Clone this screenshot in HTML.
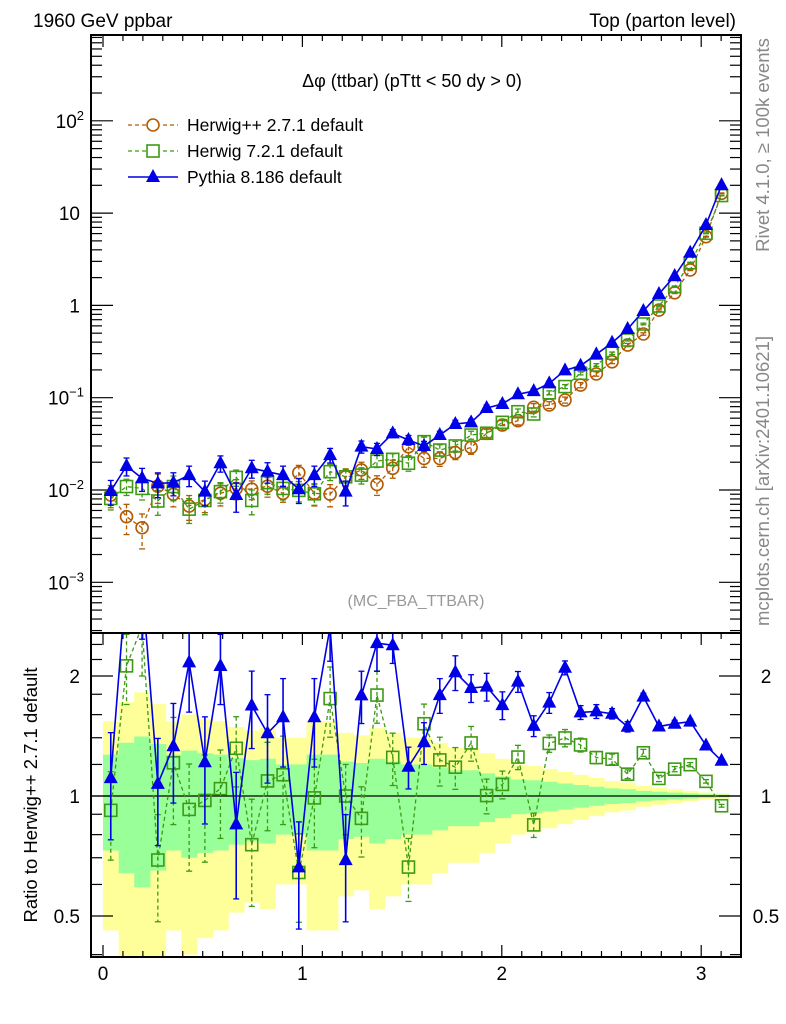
<!DOCTYPE html>
<html><head><meta charset="utf-8">
<style>
html,body{margin:0;padding:0;background:#fff;overflow:hidden;width:786px;height:1024px;}
svg{display:block;font-family:"Liberation Sans",Arial,sans-serif;}
</style></head>
<body>
<svg id="chart" width="786" height="1024" viewBox="0 0 786 1024" xmlns="http://www.w3.org/2000/svg">
<defs>
<clipPath id="cMain"><rect x="91" y="35" width="650" height="598"/></clipPath>
<clipPath id="cRat"><rect x="91" y="633" width="650" height="324"/></clipPath>
</defs>
<g id="bands" clip-path="url(#cRat)"></g>
<g id="grid"></g>
<g id="mainSeries" clip-path="url(#cMain)"></g>
<g id="ratSeries" clip-path="url(#cRat)"></g>
<rect x="91" y="35" width="650" height="598" fill="none" stroke="#000" stroke-width="2"/>
<rect x="91" y="633" width="650" height="324" fill="none" stroke="#000" stroke-width="2"/>
<text x="33" y="27" font-size="19">1960 GeV ppbar</text>
<text x="736" y="27" font-size="19" text-anchor="end">Top (parton level)</text>
<text x="412" y="87" font-size="18" text-anchor="middle">Δφ (ttbar) (pTtt &lt; 50 dy &gt; 0)</text>
<text x="416" y="606" font-size="16" fill="#999" text-anchor="middle">(MC_FBA_TTBAR)</text>
<text transform="translate(769,145) rotate(-90)" font-size="18.5" fill="#888" text-anchor="middle">Rivet 4.1.0, ≥ 100k events</text>
<text transform="translate(769,481) rotate(-90)" font-size="18.5" fill="#888" text-anchor="middle">mcplots.cern.ch [arXiv:2401.10621]</text>
<text transform="translate(37,795) rotate(-90)" font-size="18.5" text-anchor="middle">Ratio to Herwig++ 2.7.1 default</text>
<g id="legend"></g>
</svg>
<script>
const binCenters=[0.039,0.118,0.196,0.275,0.353,0.432,0.511,0.589,0.668,0.746,0.825,0.903,0.982,1.060,1.139,1.217,1.296,1.374,1.453,1.532,1.610,1.689,1.767,1.846,1.924,2.003,2.081,2.160,2.238,2.317,2.395,2.474,2.553,2.631,2.710,2.788,2.867,2.945,3.024,3.102];
const hppValues=[0.0088,0.00514,0.0039,0.0110,0.0090,0.0067,0.0079,0.0092,0.0104,0.0102,0.0110,0.0092,0.0154,0.0092,0.0090,0.0139,0.0165,0.0115,0.0172,0.0294,0.022,0.022,0.0254,0.029,0.0411,0.0506,0.0563,0.0787,0.0834,0.0944,0.137,0.181,0.245,0.372,0.49,0.89,1.37,2.42,5.55,16.4];
const h7Values=[0.0081,0.0109,0.0104,0.0076,0.0109,0.0062,0.0077,0.0096,0.0137,0.0077,0.0120,0.0104,0.0099,0.0091,0.0158,0.0139,0.0145,0.0206,0.0215,0.0195,0.0334,0.0271,0.030,0.0394,0.0412,0.0541,0.0705,0.0666,0.113,0.132,0.184,0.226,0.303,0.422,0.629,0.985,1.60,2.90,6.04,15.5];
const pyValues=[0.00976,0.0182,0.0134,0.0118,0.0120,0.0145,0.0096,0.0195,0.00883,0.0172,0.0158,0.0145,0.0102,0.0145,0.0239,0.0096,0.0295,0.0278,0.0411,0.0348,0.030,0.0394,0.0519,0.0541,0.0773,0.0855,0.109,0.118,0.143,0.198,0.222,0.295,0.394,0.555,0.87,1.33,2.08,3.72,7.43,20.1];
const hppErr=[0.27,0.36,0.41,0.35,0.27,0.30,0.28,0.27,0.245,0.23,0.24,0.2,0.2,0.27,0.27,0.22,0.21,0.24,0.22,0.2,0.2,0.18,0.16,0.16,0.14,0.12,0.1,0.095,0.085,0.075,0.065,0.055,0.045,0.04,0.03,0.025,0.02,0.015,0.01,0.008];
const h7Err=[0.25,0.2,0.25,0.3,0.3,0.3,0.3,0.25,0.2,0.3,0.25,0.25,0.25,0.25,0.2,0.2,0.2,0.15,0.15,0.18,0.12,0.14,0.12,0.1,0.1,0.08,0.07,0.07,0.05,0.05,0.04,0.035,0.03,0.025,0.02,0.018,0.015,0.012,0.01,0.008];
const pyErr=[0.3,0.22,0.28,0.3,0.28,0.25,0.3,0.2,0.35,0.22,0.25,0.25,0.3,0.25,0.18,0.3,0.15,0.15,0.1,0.12,0.12,0.1,0.1,0.08,0.08,0.08,0.06,0.06,0.06,0.04,0.04,0.04,0.03,0.03,0.02,0.02,0.02,0.015,0.01,0.01];
const xTickLabels=["0","1","2","3"];
const yMainTickLabels=[["10","-3",-3],["10","-2",-2],["10","-1",-1],["1","",0],["10","",1],["10","2",2]];
const yRatTickLabels=[["0.5",0.5],["1",1],["2",2]];

const NS="http://www.w3.org/2000/svg";
const X=v=>103+199.4*v;
const YM=v=>490-92.3*(Math.log10(v)+2);
const YR=r=>796-120*Math.log2(r);
const HW=0.0393;
function mk(tag,attrs,parent){const e=document.createElementNS(NS,tag);for(const k in attrs)e.setAttribute(k,attrs[k]);parent.appendChild(e);return e;}
const grid=document.getElementById('grid');

const bands=document.getElementById('bands');
binCenters.forEach((c,i)=>{
  const e=hppErr[i];
  const y1=mk('rect',{x:X(c-HW),width:X(c+HW)-X(c-HW)+0.5,y:YR(1+2*e),height:YR(Math.max(1-2*e,0.05))-YR(1+2*e),fill:'#ffff99'},bands);
  
  
});
binCenters.forEach((c,i)=>{
  const e=hppErr[i];
  const g1=mk('rect',{x:X(c-HW),width:X(c+HW)-X(c-HW)+0.5,y:YR(1+e),height:YR(1-e)-YR(1+e),fill:'#99ff99'},bands);
  
  
});
mk('line',{x1:91,x2:741,y1:YR(1),y2:YR(1),stroke:'#000','stroke-width':1.3},bands);

[35,633].forEach(yy=>{ for(let t=0;t<=32;t++){const v=t/10;const x=X(v);if(x>741)break;const L=(t%10===0)?12:6;mk('line',{x1:x,x2:x,y1:yy,y2:yy+L,stroke:'#000','stroke-width':1.2},grid);} });
for(let t=0;t<=32;t++){const v=t/10;const x=X(v);if(x>741)break;const L=(t%10===0)?12:6;mk('line',{x1:x,x2:x,y1:957,y2:957-L,stroke:'#000','stroke-width':1.2},grid);}
xTickLabels.forEach((s,i)=>{const t=mk('text',{x:X(i),y:980,'font-size':19,'text-anchor':'middle'},grid);t.textContent=s;
  
  });
for(let d=-4;d<=2;d++){for(let m=1;m<=9;m++){const v=m*Math.pow(10,d);const y=YM(v);if(y<35||y>633)continue;const L=m===1?22:11;
  mk('line',{x1:91,x2:91+L,y1:y,y2:y,stroke:'#000','stroke-width':1.2},grid);mk('line',{x1:741,x2:741-L,y1:y,y2:y,stroke:'#000','stroke-width':1.2},grid);}}
yMainTickLabels.forEach(([b,sup,p])=>{const t=mk('text',{x:sup?84:80,y:YM(Math.pow(10,p))+7,'font-size':19,'text-anchor':'end'},grid);
  
  
  t.textContent=b; if(sup){const s=document.createElementNS(NS,'tspan');s.setAttribute('dy','-8');s.setAttribute('font-size','13');s.textContent=sup.replace('-','−');t.appendChild(s);}
});
[0.4,0.5,0.6,0.7,0.8,0.9,1,1.2,1.4,1.6,1.8,2,2.2,2.4].forEach(r=>{const y=YR(r);if(y<633||y>957)return;const L=(r===0.5||r===1||r===2)?22:11;
  mk('line',{x1:91,x2:91+L,y1:y,y2:y,stroke:'#000','stroke-width':1.2},grid);mk('line',{x1:741,x2:741-L,y1:y,y2:y,stroke:'#000','stroke-width':1.2},grid);});
yRatTickLabels.forEach(([s,r])=>{
  const t=mk('text',{x:80,y:YR(r)+7,'font-size':19,'text-anchor':'end'},grid);t.textContent=s;
  
  
  const t2=mk('text',{x:766,y:YR(r)+7,'font-size':19,'text-anchor':'middle'},grid);t2.textContent=s;
  
  
});

function marker(kind,x,y,color,parent){
  let m;
  if(kind==='circle') m=mk('circle',{cx:x,cy:y,r:6,fill:'none',stroke:color,'stroke-width':1.6},parent);
  else if(kind==='square') m=mk('rect',{x:x-6,y:y-6,width:12,height:12,fill:'none',stroke:color,'stroke-width':1.6},parent);
  else m=mk('polygon',{points:`${x},${y-8} ${x-7},${y+5} ${x+7},${y+5}`,fill:color},parent);
  return m;
}
const series=[
 {name:'herwigpp',vals:hppValues,err:hppErr,color:'#b35a00',kind:'circle',dash:'4,3',w:1.3},
 {name:'herwig7',vals:h7Values,err:h7Err,color:'#3c9a14',kind:'square',dash:'4,3',w:1.3},
 {name:'pythia',vals:pyValues,err:pyErr,color:'#0000e6',kind:'tri',dash:'',w:1.6}
];
const mainG=document.getElementById('mainSeries'), ratG=document.getElementById('ratSeries');
series.forEach(s=>{
  const gm=mk('g',{},mainG);
  
  
  const pts=binCenters.map((c,i)=>X(c)+','+YM(s.vals[i])).join(' ');
  mk('polyline',{points:pts,fill:'none',stroke:s.color,'stroke-width':s.w,'stroke-dasharray':s.dash},gm);
  binCenters.forEach((c,i)=>{const x=X(c),v=s.vals[i],e=s.err[i];
    const yt=YM(v*(1+e)),yb=YM(v*(1-e));
    mk('line',{x1:x,x2:x,y1:yt,y2:yb,stroke:s.color,'stroke-width':s.w,'stroke-dasharray':s.dash},gm);
    mk('line',{x1:x-3,x2:x+3,y1:yt,y2:yt,stroke:s.color,'stroke-width':1.3},gm);
    mk('line',{x1:x-3,x2:x+3,y1:yb,y2:yb,stroke:s.color,'stroke-width':1.3},gm);
    const m=marker(s.kind,x,YM(v),s.color,gm);
    
    
  });
  const gr=mk('g',{},ratG);
  
  
  const rv=binCenters.map((c,i)=>s.vals[i]/hppValues[i]);
  if(s.name!=='herwigpp'){
    mk('polyline',{points:binCenters.map((c,i)=>X(c)+','+YR(rv[i])).join(' '),fill:'none',stroke:s.color,'stroke-width':s.w,'stroke-dasharray':s.dash},gr);
    binCenters.forEach((c,i)=>{const x=X(c),r=rv[i],e=s.err[i];
      const yt=YR(r*(1+e)),yb=YR(r*Math.max(1-e,0.05));
      mk('line',{x1:x,x2:x,y1:yt,y2:yb,stroke:s.color,'stroke-width':s.w,'stroke-dasharray':s.dash},gr);
      mk('line',{x1:x-3,x2:x+3,y1:yt,y2:yt,stroke:s.color,'stroke-width':1.3},gr);
      mk('line',{x1:x-3,x2:x+3,y1:yb,y2:yb,stroke:s.color,'stroke-width':1.3},gr);
      const m=marker(s.kind,x,YR(r),s.color,gr);
      
      
    });
  }
});
const lg=document.getElementById('legend');
const legendLabels=["Herwig++ 2.7.1 default","Herwig 7.2.1 default","Pythia 8.186 default"];
series.forEach((s,i)=>{const y=125+i*26;
  const g=mk('g',{},lg);
  
  
  mk('line',{x1:128,x2:178,y1:y,y2:y,stroke:s.color,'stroke-width':s.w,'stroke-dasharray':s.dash},g);
  if(s.kind!=='tri'){mk('rect',{x:146,y:y-7,width:14,height:14,fill:'#fff'},g);}
  marker(s.kind,153,y,s.color,g);
  const t=mk('text',{x:187,y:y+6,'font-size':17.5},g);t.textContent=legendLabels[i];
});
</script>
</body></html>
